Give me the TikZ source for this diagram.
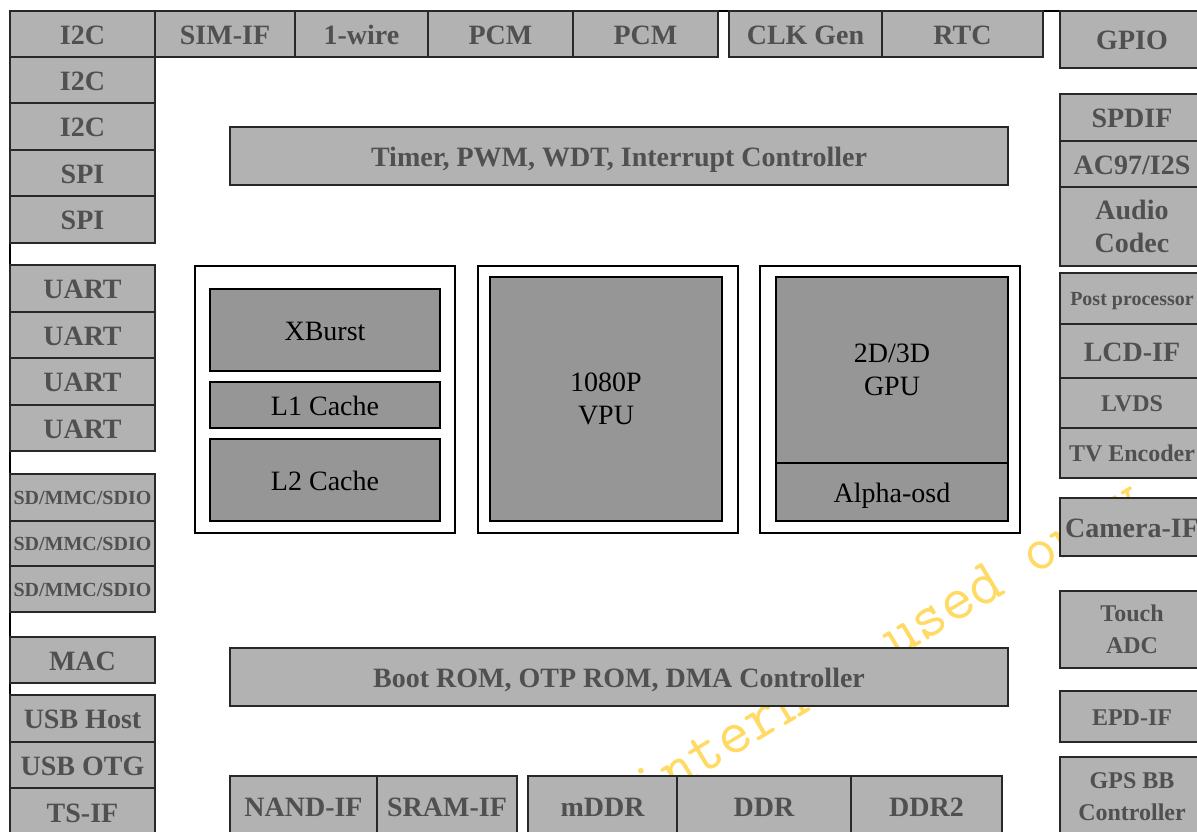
\documentclass[tikz,border=0pt]{standalone}
\usepackage{fontspec}
\setmainfont{Liberation Serif}[BoldFont={Liberation Serif Bold}]
\definecolor{boxgray}{RGB}{178,178,178}
\definecolor{coregray}{RGB}{150,150,150}
\definecolor{labelgray}{RGB}{80,80,80}
\definecolor{linegray}{RGB}{40,40,40}
\definecolor{wmyellow}{RGB}{255,218,100}
\tikzset{
  box/.style={draw=linegray, line width=0.6pt, fill=boxgray, text=labelgray, inner sep=0pt, outer sep=0pt},
  periph/.style={box, text height=10pt, text depth=0pt, font=\bfseries\fontsize{14}{16.5}\selectfont},
  periphsmall/.style={box, text height=8.6pt, text depth=0pt, font=\bfseries\fontsize{12}{16}\selectfont},
  periphtiny/.style={box, text height=7.2pt, text depth=0pt, font=\bfseries\fontsize{10}{12}\selectfont},
  periphtwo/.style={box, align=center, font=\bfseries\fontsize{14}{16.5}\selectfont},
  periphtwosmall/.style={box, align=center, font=\bfseries\fontsize{12}{16}\selectfont},
  core/.style={draw=black, line width=0.6pt, fill=coregray, text=black, inner sep=0pt, outer sep=0pt, font=\fontsize{14}{16.5}\selectfont},
  coreone/.style={core, text height=10.8pt, text depth=0pt},
  coretwo/.style={core, align=center},
  coreframe/.style={draw=black, line width=1pt, inner sep=0pt, outer sep=0pt},
}
\begin{document}
\begin{tikzpicture}[x=0.5pt,y=-0.5pt]
\useasboundingbox (0,0) rectangle (1197,831);
\clip (0,0) rectangle (1197,831);
%%%%%%%%%%%%% watermark
\node[rotate=31, anchor=base west, inner sep=0pt, text=wmyellow, font=\ttfamily\fontsize{31.5}{35}\selectfont] (wmark) at (645,810) {internal used only};
%%%%%%%%%%%%% outer frame
\draw[line width=0.8pt] (1060,11) -- (10,11) -- (10,840);
%%%%%%%%%%%%% top row
\node[periph, minimum width=72.5pt, minimum height=23pt] (i2ca) at (82.5,34) {I2C};
\node[periph, minimum width=70pt, minimum height=23pt] (simif) at (225,34) {SIM-IF};
\node[periph, minimum width=66.5pt, minimum height=23pt] (onewire) at (361.5,34) {1-wire};
\node[periph, minimum width=72.5pt, minimum height=23pt] (pcma) at (500.5,34) {PCM};
\node[periph, minimum width=72.5pt, minimum height=23pt] (pcmb) at (645.5,34) {PCM};
\node[periph, minimum width=76.5pt, minimum height=23pt] (clkgen) at (805.5,34) {CLK Gen};
\node[periph, minimum width=80.5pt, minimum height=23pt] (rtc) at (962.5,34) {RTC};
%%%%%%%%%%%%% left column
\node[periph, minimum width=72.5pt, minimum height=23pt] (i2cb) at (82.5,80) {I2C};
\node[periph, minimum width=72.5pt, minimum height=23.5pt] (i2cc) at (82.5,126.5) {I2C};
\node[periph, minimum width=72.5pt, minimum height=23pt] (spia) at (82.5,173) {SPI};
\node[periph, minimum width=72.5pt, minimum height=23.5pt] (spib) at (82.5,219.5) {SPI};
\node[periph, minimum width=72.5pt, minimum height=23.5pt] (uarta) at (82.5,288.5) {UART};
\node[periph, minimum width=72.5pt, minimum height=23pt] (uartb) at (82.5,335) {UART};
\node[periph, minimum width=72.5pt, minimum height=23.5pt] (uartc) at (82.5,381.5) {UART};
\node[periph, minimum width=72.5pt, minimum height=23pt] (uartd) at (82.5,428) {UART};
\node[periphtiny, minimum width=72.5pt, minimum height=23.5pt] (sda) at (82.5,497.5) {SD/MMC/SDIO};
\node[periphtiny, minimum width=72.5pt, minimum height=22.5pt] (sdb) at (82.5,543.5) {SD/MMC/SDIO};
\node[periphtiny, minimum width=72.5pt, minimum height=23pt] (sdc) at (82.5,589) {SD/MMC/SDIO};
\node[periph, minimum width=72.5pt, minimum height=23pt] (mac) at (82.5,660) {MAC};
\node[periph, minimum width=72.5pt, minimum height=23.5pt] (usbhost) at (82.5,718.5) {USB Host};
\node[periph, minimum width=72.5pt, minimum height=23pt] (usbotg) at (82.5,765) {USB OTG};
\node[periph, minimum width=72.5pt, minimum height=24pt] (tsif) at (82.5,812) {TS-IF};
%%%%%%%%%%%%% right column
\node[periph, minimum width=72pt, minimum height=28.5pt] (gpio) at (1132,39.5) {GPIO};
\node[periph, minimum width=72pt, minimum height=23.5pt] (spdif) at (1132,117.5) {SPDIF};
\node[periph, minimum width=72pt, minimum height=23pt] (ac97) at (1132,164) {AC97/I2S};
\node[periphtwo, minimum width=72pt, minimum height=39.5pt] (codec) at (1132,226.5) {Audio\\Codec};
\node[periphtiny, minimum width=72pt, minimum height=25.5pt] (postproc) at (1132,298.5) {Post processor};
\node[periph, minimum width=72pt, minimum height=27pt] (lcdif) at (1132,351) {LCD-IF};
\node[periphsmall, minimum width=72pt, minimum height=25pt] (lvds) at (1132,403) {LVDS};
\node[periphsmall, minimum width=72pt, minimum height=25pt] (tvenc) at (1132,453) {TV Encoder};
\node[periph, minimum width=72pt, minimum height=29pt] (camif) at (1132,527) {Camera-IF};
\node[periphtwosmall, minimum width=72pt, minimum height=38.5pt] (touch) at (1132,629.5) {Touch\\ADC};
\node[periphsmall, minimum width=72pt, minimum height=25.5pt] (epdif) at (1132,716.5) {EPD-IF};
\node[periphtwosmall, minimum width=72pt, minimum height=39.5pt] (gpsbb) at (1132,796.5) {GPS BB\\Controller};
%%%%%%%%%%%%% bars
\node[periph, minimum width=389pt, minimum height=29pt] (timer) at (619,156) {Timer, PWM, WDT, Interrupt Controller};
\node[periph, minimum width=389pt, minimum height=29pt] (bootrom) at (619,677) {Boot ROM, OTP ROM, DMA Controller};
%%%%%%%%%%%%% bottom row
\node[periph, minimum width=73.5pt, minimum height=30pt] (nandif) at (303.5,806) {NAND-IF};
\node[periph, minimum width=70pt, minimum height=30pt] (sramif) at (447,806) {SRAM-IF};
\node[periph, minimum width=74.5pt, minimum height=30pt] (mddr) at (602.5,806) {mDDR};
\node[periph, minimum width=87pt, minimum height=30pt] (ddr) at (764,806) {DDR};
\node[periph, minimum width=75.5pt, minimum height=30pt] (ddrtwo) at (926.5,806) {DDR2};
%%%%%%%%%%%%% core
\node[coreframe, minimum width=130pt, minimum height=133.5pt] (cpuframe) at (325,399.5) {};
\node[coreframe, minimum width=130pt, minimum height=133.5pt] (vpuframe) at (608,399.5) {};
\node[coreframe, minimum width=130pt, minimum height=133.5pt] (gpuframe) at (890,399.5) {};
\node[coreone, minimum width=115pt, minimum height=41pt] (xburst) at (325,330) {XBurst};
\node[coreone, minimum width=115pt, minimum height=23pt] (lonecache) at (325,405) {L1 Cache};
\node[coreone, minimum width=115pt, minimum height=41pt] (ltwocache) at (325,480) {L2 Cache};
\node[coretwo, minimum width=116pt, minimum height=122pt] (vpu) at (606,399) {1080P\\VPU};
\node[coretwo, minimum width=116pt, minimum height=93pt] (gpu) at (892,370) {2D/3D\\GPU};
\node[coreone, minimum width=116pt, minimum height=29pt] (alphaosd) at (892,492) {Alpha-osd};
\end{tikzpicture}
\end{document}
